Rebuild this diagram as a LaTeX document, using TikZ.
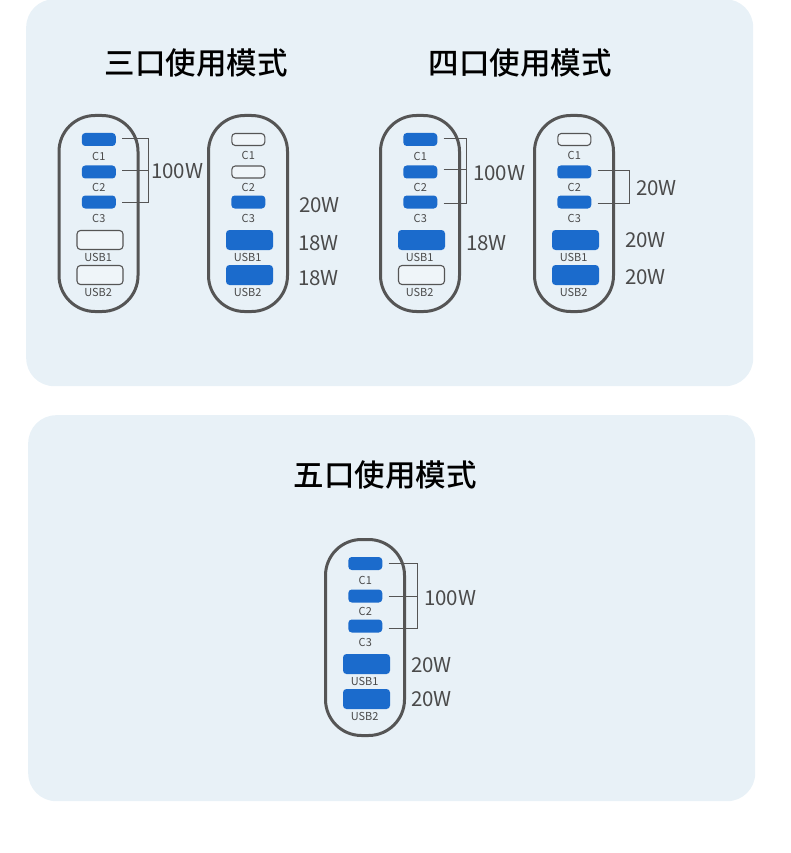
\documentclass[tikz,border=0pt]{standalone}
\usepackage{fontspec}
\setmainfont{Noto Sans CJK SC}
\newfontfamily\titlefont{Noto Sans CJK SC Medium}
\usepackage{xcolor}
\usetikzlibrary{positioning}
\definecolor{panelbg}{HTML}{E8F1F7}
\definecolor{portblue}{HTML}{1B6BCC}
\definecolor{bodygrey}{HTML}{555555}
\definecolor{textgrey}{HTML}{4A4A4A}
\tikzset{
  panel/.style={fill=panelbg,rounded corners=28pt,inner sep=0pt},
  title/.style={font=\fontsize{30.5}{30.5}\selectfont\titlefont,text=black,inner sep=0pt},
  body/.style={draw=bodygrey,line width=3pt,rounded corners=36pt,minimum width=79pt,minimum height=196pt,inner sep=0pt},
  con/.style={fill=portblue,rounded corners=3.5pt,minimum width=34pt,minimum height=13pt,inner sep=0pt},
  coff/.style={con,fill=panelbg!70,draw=bodygrey,line width=1.1pt,minimum width=33pt,minimum height=12pt},
  uon/.style={fill=portblue,rounded corners=3.5pt,minimum width=47pt,minimum height=20pt,inner sep=0pt},
  uoff/.style={uon,fill=panelbg!70,draw=bodygrey,line width=1.1pt,minimum width=46pt,minimum height=19pt},
  plbl/.style={font=\fontsize{11}{11}\selectfont,text=textgrey,inner sep=0pt},
  watt/.style={font=\fontsize{20.5}{20.5}\selectfont,text=textgrey,inner sep=0pt,anchor=west},
  brk/.style={draw=bodygrey,line width=0.8pt},
  stub/.style={brk,shorten <=6pt}
}
% #1 name, #2 x, #3 top, #4-#8 port styles
\newcommand{\charger}[8]{
  \node[body,anchor=north] (#1) at (#2,#3) {};
  \node[#4] (#1c1) at (#2+0.3,#3+25.5) {};
  \node[#5] (#1c2) at (#2+0.3,#3+58) {};
  \node[#6] (#1c3) at (#2+0.3,#3+88) {};
  \node[#7] (#1u1) at (#2+1.5,#3+126) {};
  \node[#8] (#1u2) at (#2+1.5,#3+161) {};
  \node[plbl,below=5.5pt of #1c1] (#1lc1) {C1};
  \node[plbl,below=4.5pt of #1c2] (#1lc2) {C2};
  \node[plbl,below=5.5pt of #1c3] (#1lc3) {C3};
  \node[plbl,below=3pt of #1u1,xshift=-1.8pt] (#1lu1) {USB1};
  \node[plbl,below=3pt of #1u2,xshift=-1.8pt] (#1lu2) {USB2};
}

\begin{document}
\begin{tikzpicture}[x=1pt,y=-1pt]
\useasboundingbox (0,0) rectangle (790,853);
\node[panel,minimum width=727pt,minimum height=387pt,anchor=north west] (top) at (26,-1) {};
\node[panel,minimum width=727pt,minimum height=386pt,anchor=north west] (bottom) at (28,415) {};

\node[title] (t3) at (196,63) {三口使用模式};
\node[title] (t4) at (520,63) {四口使用模式};
\node[title] (t5) at (385,475) {五口使用模式};

\charger{a}{98.5}{114}{con}{con}{con}{uoff}{uoff}
\charger{b}{248}{114}{coff}{coff}{con}{uon}{uon}
\charger{d}{420}{114}{con}{con}{con}{uon}{uoff}
\charger{e}{574}{114}{coff}{con}{con}{uon}{uon}
\charger{f}{365}{538}{con}{con}{con}{uon}{uon}

% brackets
\coordinate (abt) at (148.5,138.5); \coordinate (abb) at (148.5,202.5);
\draw[brk] (abt) -- (abb);
\draw[stub] (ac1.east|-abt) -- (abt);
\draw[stub] (ac2.east|-0,170) -- (abt|-0,170);
\draw[stub] (ac3.east|-abb) -- (abb);

\coordinate (dbt) at (466.5,138.5); \coordinate (dbb) at (466.5,203);
\draw[brk] (dbt) -- (dbb);
\draw[stub] (dc1.east|-dbt) -- (dbt);
\draw[stub] (dc2.east|-0,169) -- (dbt|-0,169);
\draw[stub] (dc3.east|-dbb) -- (dbb);

\coordinate (ebt) at (629.5,170.5); \coordinate (ebb) at (629.5,203.5);
\draw[brk] (ebt) -- (ebb);
\draw[stub] (ec2.east|-ebt) -- (ebt);
\draw[stub] (ec3.east|-ebb) -- (ebb);

\coordinate (fbt) at (417.5,563); \coordinate (fbb) at (417.5,628.5);
\draw[brk] (fbt) -- (fbb);
\draw[stub] (fc1.east|-fbt) -- (fbt);
\draw[stub] (fc2.east|-0,596) -- (fbt|-0,596);
\draw[stub] (fc3.east|-fbb) -- (fbb);

\node[watt] (wa) at (151,171.5) {100W};
\node[watt] (wb3) at (299,205.5) {20W};
\node[watt] (wb4) at (298,243.5) {18W};
\node[watt] (wb5) at (298,278.5) {18W};
\node[watt] (wd) at (473,173.5) {100W};
\node[watt] (wd4) at (466,243.5) {18W};
\node[watt] (we) at (636,188.5) {20W};
\node[watt] (we4) at (625,240.5) {20W};
\node[watt] (we5) at (625,277.5) {20W};
\node[watt] (wf) at (424,598.5) {100W};
\node[watt] (wf4) at (411,665.5) {20W};
\node[watt] (wf5) at (411,699.5) {20W};
\end{tikzpicture}
\end{document}
